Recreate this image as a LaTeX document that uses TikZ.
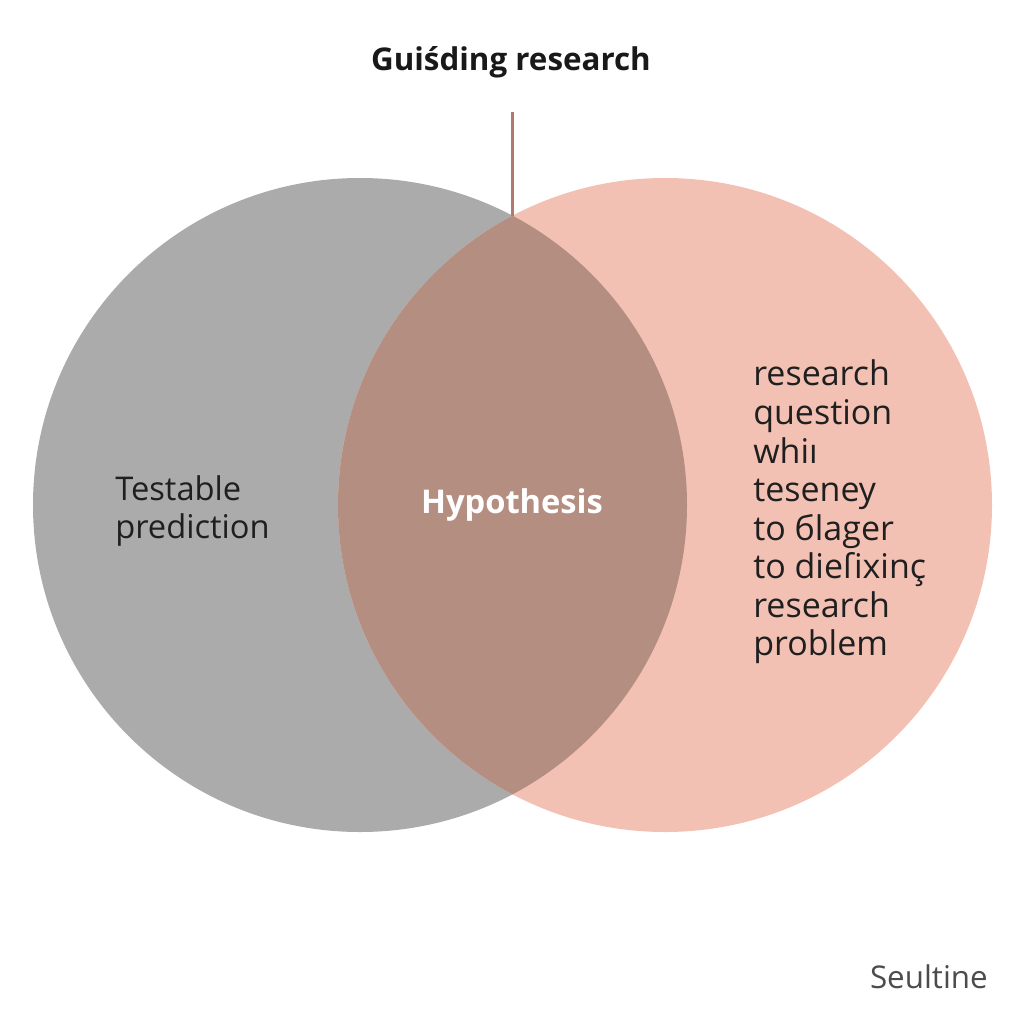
\documentclass[tikz,border=0pt]{standalone}
\usepackage{fontspec}
\setmainfont{Open Sans}
\begin{document}
\begin{tikzpicture}[x=0.75pt,y=-0.75pt,
  lbl/.style={inner sep=0pt,text=black!88,align=left},
  circ/.style={draw=none}]
\useasboundingbox[fill=white] (0,0) rectangle (1024,1024);
\definecolor{cgray}{HTML}{ABABAB}
\definecolor{csalmon}{HTML}{F3C1B4}
\definecolor{clens}{HTML}{B58E82}
\definecolor{cline}{HTML}{B07A6E}
\fill[cgray] (360,505) circle[radius=327];
\fill[csalmon] (665,505) circle[radius=327];
\begin{scope}
\clip (360,505) circle[radius=327];
\fill[clens] (665,505) circle[radius=327];
\end{scope}
\coordinate (top) at (512.5,216);
\node[inner sep=0pt,font=\fontsize{23.5}{28}\selectfont\bfseries,text=black!90] (title) at (511,62) {Guiśding research};
\coordinate (ltop) at (512.5,112);
\draw[cline,line width=1.8pt] (ltop) -- (top);
\node[lbl,anchor=west,font=\fontsize{24.5}{29.2}\selectfont] (left) at (115,511) {Testable\\prediction};
\node[inner sep=0pt,font=\fontsize{24.5}{28}\selectfont\bfseries,text=white] (hyp) at (512,505) {Hypothesis};
\node[lbl,anchor=west,font=\fontsize{25.5}{28.9}\selectfont] (right) at (753,512) {research\\question\\whiı\\teseney\\to бlager\\to dieſixinç\\research\\problem};
\node[inner sep=0pt,font=\fontsize{23.5}{28}\selectfont,text=black!70,anchor=east] (foot) at (988,977) {Seultine};
\end{tikzpicture}
\end{document}
